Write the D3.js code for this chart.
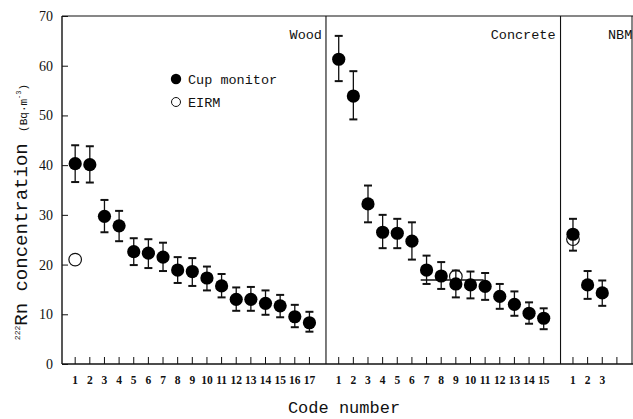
<!DOCTYPE html>
<html>
    <head>
        <meta charset="utf-8">
        <title></title>
        <script src="https://cdn.jsdelivr.net/npm/d3@7"></script>
        <style>
            body { margin: 0; background: #fff; }
            svg { background-color: #ffffff; }
            .mono { font-family: "Liberation Mono", monospace; fill: #111; }
            .num { font-family: "Liberation Serif", serif; fill: #111; }
        </style>
    </head>
    <body>
        <svg width="633" height="419"></svg>
        <script>
            // data (Bq/m3)
            var woodCodes = [1,2,3,4,5,6,7,8,9,10,11,12,13,14,15,16,17];
            var woodCup  = [40.3,40.1,29.7,27.8,22.6,22.3,21.5,18.9,18.6,17.3,15.7,13.0,13.0,12.2,11.7,9.5,8.3];
            var woodHigh = [44.0,43.8,33.0,30.8,25.3,25.1,24.4,21.5,21.3,19.6,18.1,15.4,15.5,14.8,13.9,11.9,10.5];
            var woodLow  = [36.6,36.5,26.5,24.7,19.9,19.3,18.7,16.3,15.7,14.8,13.4,10.7,10.7,9.9,9.4,7.4,6.5];
            var woodEirm = [{code: 1, value: 21.0}];

            var concreteCodes = [1,2,3,4,5,6,7,8,9,10,11,12,13,14,15];
            var concreteCup  = [61.3,53.9,32.2,26.5,26.3,24.7,18.9,17.7,16.1,15.9,15.6,13.6,12.0,10.2,9.2];
            var concreteHigh = [66.0,58.9,35.9,30.0,29.2,28.5,21.8,20.5,18.8,18.6,18.3,16.1,14.6,12.4,11.2];
            var concreteLow  = [56.9,49.2,28.5,23.3,23.3,21.0,16.1,15.1,13.4,13.2,12.9,11.1,9.7,8.1,7.0];
            var concreteEirm = [{code: 9, value: 17.6}];
            var concreteRef  = {from: 6.6, to: 10.9, value: 16.9};

            var nbmCodes = [1,2,3];
            var nbmCup  = [26.1,15.9,14.3];
            var nbmHigh = [29.2,18.7,16.8];
            var nbmLow  = [22.8,13.1,11.7];
            var nbmEirm = [{code: 1, value: 25.1}];

            var groups = [
                {name: "Wood", start: 0, codes: woodCodes, cup: woodCup, hi: woodHigh, lo: woodLow, eirm: woodEirm, extra: 0},
                {name: "Concrete", start: 18, codes: concreteCodes, cup: concreteCup, hi: concreteHigh, lo: concreteLow, eirm: concreteEirm, extra: 0},
                {name: "NBM", start: 34, codes: nbmCodes, cup: nbmCup, hi: nbmHigh, lo: nbmLow, eirm: nbmEirm, extra: 1}
            ];
            var dividers = [17.13, 33.15];
            var yTicks = [0,10,20,30,40,50,60,70];

            var svg = d3.select("svg");
            var plotLeft = 62, plotRight = 632, plotTop = 16, plotBottom = 364;

            var x = d3.scaleLinear().domain([-0.9, 38.1]).range([plotLeft, 633]);
            var y = d3.scaleLinear().domain([0, 70]).range([plotBottom, plotTop]);

            // frame
            var frame = svg.append("g").attr("stroke", "#111").attr("fill", "none");
            frame.append("line").attr("x1", plotLeft).attr("x2", 633).attr("y1", plotTop).attr("y2", plotTop).attr("stroke-width", 1.2);
            frame.append("line").attr("x1", plotLeft).attr("x2", 633).attr("y1", plotBottom).attr("y2", plotBottom).attr("stroke-width", 1.4);
            frame.append("line").attr("x1", plotLeft).attr("x2", plotLeft).attr("y1", plotTop).attr("y2", plotBottom).attr("stroke-width", 1.4);
            frame.append("line").attr("x1", plotRight).attr("x2", plotRight).attr("y1", plotTop).attr("y2", plotBottom).attr("stroke-width", 1);
            frame.selectAll("line.div").data(dividers).enter().append("line")
                .attr("class", "div")
                .attr("x1", function(d){ return x(d); }).attr("x2", function(d){ return x(d); })
                .attr("y1", plotTop).attr("y2", plotBottom).attr("stroke-width", 1.1);

            // y axis (inward ticks)
            var yAxis = d3.axisRight(y).tickValues(yTicks).tickSize(6).tickFormat("");
            svg.append("g").attr("transform", "translate(" + plotLeft + ",0)").call(yAxis)
                .call(function(g){ g.select(".domain").remove(); g.selectAll("line").attr("stroke", "#111"); });
            svg.append("g").selectAll("text").data(yTicks).enter().append("text")
                .attr("class", "num")
                .attr("x", 53).attr("y", function(d){ return y(d) + 5; })
                .attr("text-anchor", "end").attr("font-size", 14)
                .text(function(d){ return d; });

            // x ticks and labels
            groups.forEach(function(g) {
                var slots = g.codes.map(function(c){ return g.start + c - 1; });
                var tickSlots = slots.slice();
                for (var k = 1; k <= g.extra; k++) tickSlots.push(g.start + g.codes.length - 1 + k);
                svg.append("g").selectAll("line").data(tickSlots).enter().append("line")
                    .attr("x1", function(d){ return x(d); }).attr("x2", function(d){ return x(d); })
                    .attr("y1", plotBottom).attr("y2", plotBottom - 7)
                    .attr("stroke", "#111").attr("stroke-width", 1);
                svg.append("g").selectAll("text").data(g.codes).enter().append("text")
                    .attr("class", "num")
                    .attr("x", function(d){ return x(g.start + d - 1); })
                    .attr("y", 384).attr("text-anchor", "middle").attr("font-size", 11.5)
                    .attr("font-weight", "bold")
                    .text(function(d){ return d; });
            });

            // panel labels
            svg.append("text").attr("class", "mono").attr("x", x(dividers[0]) - 4).attr("y", 39)
                .attr("text-anchor", "end").attr("font-size", 13.5).text("Wood");
            svg.append("text").attr("class", "mono").attr("x", x(dividers[1]) - 5).attr("y", 39)
                .attr("text-anchor", "end").attr("font-size", 13.5).text("Concrete");
            svg.append("text").attr("class", "mono").attr("x", 608).attr("y", 39)
                .attr("text-anchor", "start").attr("font-size", 13.5).text("NBM");

            // horizontal reference segment in concrete panel
            svg.append("line")
                .attr("x1", x(18 + concreteRef.from - 1)).attr("x2", x(18 + concreteRef.to - 1))
                .attr("y1", y(concreteRef.value)).attr("y2", y(concreteRef.value))
                .attr("stroke", "#111").attr("stroke-width", 1.3);

            // EIRM (drawn first, behind cup monitor points)
            groups.forEach(function(g) {
                svg.append("g").selectAll("circle").data(g.eirm).enter().append("circle")
                    .attr("cx", function(d){ return x(g.start + d.code - 1); })
                    .attr("cy", function(d){ return y(d.value); })
                    .attr("r", 6.3).attr("fill", "#fff").attr("stroke", "#111").attr("stroke-width", 1.2);
            });

            // cup monitor with error bars
            groups.forEach(function(g) {
                var pts = g.codes.map(function(c, i){
                    return {slot: g.start + c - 1, v: g.cup[i], hi: g.hi[i], lo: g.lo[i]};
                });
                var bars = svg.append("g").attr("stroke", "#111");
                bars.selectAll("line.v").data(pts).enter().append("line")
                    .attr("class", "v")
                    .attr("x1", function(d){ return x(d.slot); }).attr("x2", function(d){ return x(d.slot); })
                    .attr("y1", function(d){ return y(d.hi); }).attr("y2", function(d){ return y(d.lo); })
                    .attr("stroke-width", 1.3);
                ["hi", "lo"].forEach(function(key) {
                    bars.selectAll("line." + key).data(pts).enter().append("line")
                        .attr("class", key)
                        .attr("x1", function(d){ return x(d.slot) - 4; }).attr("x2", function(d){ return x(d.slot) + 4; })
                        .attr("y1", function(d){ return y(d[key]); }).attr("y2", function(d){ return y(d[key]); })
                        .attr("stroke-width", 2);
                });
                svg.append("g").selectAll("circle").data(pts).enter().append("circle")
                    .attr("cx", function(d){ return x(d.slot); })
                    .attr("cy", function(d){ return y(d.v); })
                    .attr("r", 6.6).attr("fill", "#000");
            });

            // legend
            svg.append("circle").attr("cx", 176).attr("cy", 79).attr("r", 5.2).attr("fill", "#000");
            svg.append("text").attr("class", "mono").attr("x", 188).attr("y", 84).attr("font-size", 13.5).text("Cup monitor");
            svg.append("circle").attr("cx", 176).attr("cy", 102).attr("r", 4.5)
                .attr("fill", "#fff").attr("stroke", "#111").attr("stroke-width", 1);
            svg.append("text").attr("class", "mono").attr("x", 188).attr("y", 107).attr("font-size", 13.5).text("EIRM");

            // axis titles
            svg.append("text").attr("class", "mono").attr("x", 344).attr("y", 413)
                .attr("text-anchor", "middle").attr("font-size", 17).text("Code number");

            var yt = svg.append("text").attr("class", "mono")
                .attr("transform", "translate(27,212) rotate(-90)")
                .attr("text-anchor", "middle");
            yt.append("tspan").attr("font-size", 8).attr("dy", -7).text("222");
            yt.append("tspan").attr("font-size", 19).attr("dy", 7).text("Rn concentration ");
            yt.append("tspan").attr("font-size", 11).text("(Bq\u00b7m");
            yt.append("tspan").attr("font-size", 7).attr("dy", -6).text("-3");
            yt.append("tspan").attr("font-size", 11).attr("dy", 6).text(")");
        </script>
    </body>
</html>
